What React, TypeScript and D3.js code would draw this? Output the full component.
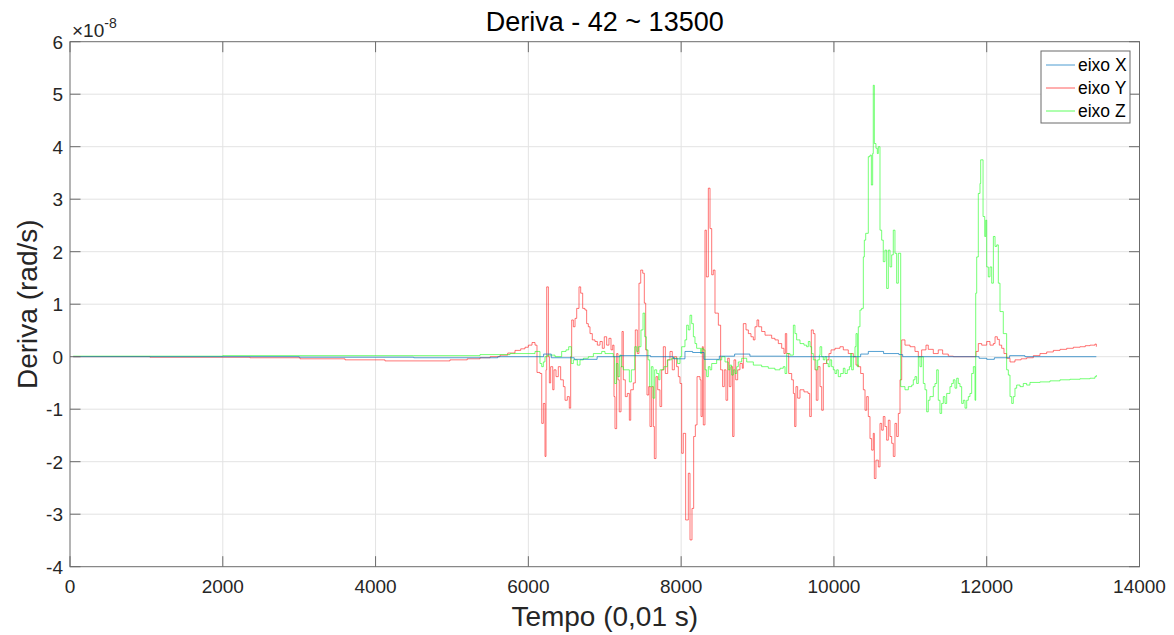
import React, { useEffect, useRef } from "react";
import * as d3 from "d3";

// Drift per axis (units of 1e-8 rad/s) vs time (units of 0.01 s), sampled as steps.
const eixoX: [number, number][] = [
  [42, 0], [3000, -0.01], [4500, -0.02], [5600, 0], [6100, 0], [6200, 0.05], [6300, -0.02],
  [6600, -0.05], [6900, 0], [7200, 0.02], [7600, 0], [7900, -0.04], [8050, 0.1], [8150, 0.08],
  [8300, -0.05], [8500, 0.01], [8700, 0.05], [8900, 0.01], [9400, 0], [10000, 0], [10350, 0.05],
  [10450, 0.1], [10650, 0.06], [10850, 0.04], [10900, 0], [11500, 0], [11900, -0.03],
  [12000, -0.05], [12100, -0.02], [12300, 0.02], [12500, 0], [13435, 0],
];

const eixoY: [number, number][] = [
  [42, 0], [1047, -0.01], [2356, -0.02], [3011, -0.04], [3600, -0.06], [4123, -0.08], [4582, -0.08],
  [4974, -0.06], [5200, -0.04], [5367, -0.02], [5500, 0], [5629, 0.03], [5730, 0.07], [5825, 0.12],
  [5900, 0.15], [5956, 0.18], [6000, 0.22], [6048, 0.27], [6087, 0.22], [6113, -0.3], [6152, -0.32],
  [6175, -1.27], [6196, -0.89], [6218, -1.9], [6231, -0.25], [6240, 1.33], [6262, 0], [6275, -0.5],
  [6292, -0.19], [6319, -0.63], [6336, -0.25], [6362, -0.38], [6392, -0.19], [6423, -0.44],
  [6458, -0.57], [6480, -0.83], [6510, -0.76], [6536, -0.98], [6554, 0], [6567, 0.7], [6589, 0.57],
  [6611, 0.73], [6633, 0.92], [6663, 1.33], [6685, 1.21], [6711, 0.92], [6741, 0.89], [6763, 0.63],
  [6785, 0.57], [6807, 0.44], [6837, 0.32], [6872, 0.29], [6903, 0.22], [6938, 0.29], [6968, 0.16],
  [6994, 0.38], [7025, 0.22], [7055, 0.35], [7082, 0.13], [7104, 0.22], [7121, -0.76], [7134, -1.37],
  [7156, 0.06], [7173, -0.44], [7190, -1.05], [7213, -0.19], [7226, 0.48], [7243, -0.44],
  [7269, -0.76], [7295, -0.7], [7322, -1.21], [7340, -0.63], [7374, -0.5], [7400, 0.51], [7426, 0.06],
  [7448, 1.4], [7471, 1.65], [7497, 1.59], [7518, 1.02], [7536, 0.13], [7553, -0.73], [7575, -0.57],
  [7592, -1.33], [7614, -0.57], [7636, -1.33], [7649, -1.94], [7671, -0.38], [7693, -0.63],
  [7723, -0.95], [7745, -0.25], [7767, 0.19], [7793, -0.32], [7824, -0.06], [7854, 0.1],
  [7884, -0.25], [7911, 0], [7941, -0.19], [7963, -0.38], [7985, -0.51], [8007, -1.84],
  [8028, -1.46], [8059, -3.11], [8094, -2.22], [8116, -3.49], [8142, -2.89], [8164, -1.52],
  [8186, -1.3], [8208, -0.38], [8247, -0.44], [8260, -1.14], [8277, 0.19], [8290, -1.3],
  [8312, 2.41], [8330, 1.52], [8356, 3.21], [8378, 2.44], [8400, 1.56], [8421, 1.65], [8443, 0.83],
  [8487, 0.6], [8517, -0.25], [8543, -0.57], [8565, -0.25], [8587, -0.83], [8609, -0.03],
  [8630, -0.57], [8652, -0.19], [8674, -1.52], [8692, -0.06], [8714, -0.44], [8740, -0.25],
  [8770, -0.13], [8801, -0.22], [8814, 0.63], [8849, 0.51], [8880, 0.44], [8914, 0.38], [8945, 0.32],
  [8967, 0.57], [8993, 0.7], [9015, 0.57], [9054, 0.48], [9098, 0.41], [9141, 0.41], [9185, 0.35],
  [9228, 0.32], [9272, 0.25], [9316, 0.16], [9346, 0.06], [9364, 0.44], [9382, 0.06], [9408, -0.32],
  [9447, -0.44], [9469, -0.7], [9486, -1.33], [9503, -0.57], [9525, -0.79], [9556, -0.63],
  [9608, -0.67], [9661, -0.7], [9683, -1.14], [9704, 0.51], [9730, 0.44], [9752, -0.25],
  [9769, -0.83], [9791, -0.19], [9818, -0.57], [9840, -1.02], [9861, -0.13], [9905, -0.06],
  [9935, 0.06], [9962, 0.13], [10014, 0.16], [10079, 0.19], [10123, 0.13], [10188, 0.06],
  [10254, 0], [10289, -0.16], [10319, -0.19], [10350, -0.32], [10385, -0.63], [10407, -1.02],
  [10429, -0.76], [10450, -1.14], [10472, -1.56], [10494, -1.78], [10515, -1.46], [10529, -2.32],
  [10550, -1.97], [10581, -2.1], [10603, -1.27], [10625, -1.4], [10646, -1.14], [10668, -1.33],
  [10690, -1.59], [10712, -1.21], [10734, -1.52], [10756, -1.65], [10777, -1.9], [10799, -1.27],
  [10821, -1.52], [10843, -1.08], [10865, -0.44], [10887, 0.32], [10930, 0.22], [10996, 0.19],
  [11061, 0.1], [11105, 0], [11148, 0.13], [11205, 0.22], [11235, 0.14], [11301, 0.06],
  [11366, 0.13], [11423, 0.05], [11497, 0.01], [11563, 0], [11825, 0], [11860, 0.1], [11890, 0.25],
  [11934, 0.22], [11978, 0.22], [12000, 0.29], [12043, 0.22], [12087, 0.25], [12109, 0.38],
  [12139, 0.33], [12165, 0.22], [12196, 0.16], [12226, 0.06], [12261, -0.03], [12305, -0.1],
  [12370, -0.06], [12450, -0.04], [12523, -0.02], [12610, 0.02], [12697, 0.06], [12785, 0.09],
  [12872, 0.12], [12960, 0.14], [13047, 0.16], [13134, 0.18], [13221, 0.19], [13290, 0.21],
  [13352, 0.22], [13417, 0.24], [13435, 0.19],
];

const eixoZ: [number, number][] = [
  [42, 0.01], [2000, 0.02], [4500, 0.02], [5367, 0.04], [5760, 0.06], [6022, 0.06], [6087, 0.1],
  [6152, -0.13], [6175, -0.19], [6196, -0.1], [6218, 0], [6248, 0.03], [6349, 0], [6436, 0.1],
  [6493, 0.13], [6528, 0.19], [6562, -0.13], [6589, -0.06], [6641, -0.16], [6676, -0.06],
  [6720, -0.03], [6785, 0], [6851, 0.06], [6960, 0.1], [7003, 0.06], [7112, 0], [7130, -0.51],
  [7152, -0.13], [7173, -0.38], [7195, 0.03], [7217, -0.19], [7243, -0.25], [7322, -0.48],
  [7348, -0.25], [7392, 0.19], [7418, 0.1], [7440, 0.19], [7474, 0.51], [7501, 0.83], [7523, 0.38],
  [7544, 0.13], [7566, -0.06], [7588, -0.57], [7610, -0.19], [7632, -0.79], [7654, -0.25],
  [7680, -0.32], [7706, -0.44], [7723, -0.25], [7776, -0.19], [7819, -0.06], [7876, -0.03],
  [7954, -0.13], [7985, 0], [8007, 0.19], [8050, 0.32], [8072, 0.6], [8094, 0.51], [8116, 0.79],
  [8138, 0.63], [8160, 0.38], [8181, 0.25], [8203, 0.16], [8255, 0.06], [8269, 0.16], [8290, 0.13],
  [8312, -0.25], [8334, -0.38], [8356, -0.19], [8378, -0.25], [8400, -0.13], [8465, -0.06],
  [8531, 0], [8574, -0.1], [8617, -0.25], [8639, -0.16], [8661, -0.35], [8683, -0.25], [8705, -0.32],
  [8727, -0.19], [8748, -0.1], [8792, -0.03], [8858, -0.1], [8945, -0.16], [9054, -0.19],
  [9141, -0.22], [9228, -0.25], [9294, -0.22], [9337, -0.19], [9360, -0.32], [9382, 0.06],
  [9425, 0.03], [9469, 0.6], [9490, 0.44], [9512, 0.32], [9556, 0.25], [9608, 0.22], [9643, 0.19],
  [9665, 0.29], [9687, 0.19], [9708, 0.06], [9730, -0.06], [9765, -0.25], [9787, -0.06],
  [9809, 0.03], [9818, 0.19], [9840, 0], [9861, -0.06], [9883, 0], [9905, -0.13], [9926, -0.19],
  [9948, -0.06], [9970, -0.19], [9992, -0.25], [10014, -0.32], [10036, -0.25], [10057, -0.38],
  [10088, -0.32], [10123, -0.22], [10145, -0.32], [10175, -0.25], [10202, -0.19], [10219, 0.06],
  [10232, -0.25], [10254, 0], [10276, 0.19], [10289, 0.44], [10306, -0.19], [10319, 0.57],
  [10341, 0.89], [10363, 0.92], [10385, 1.9], [10398, 2.22], [10416, 2.35], [10450, 3.81],
  [10472, 3.84], [10490, 3.27], [10507, 3.87], [10515, 5.17], [10529, 4.06], [10550, 3.97],
  [10568, 3.87], [10581, 4.0], [10603, 2.41], [10625, 2.22], [10646, 1.81], [10668, 2.03],
  [10690, 1.3], [10712, 2.03], [10734, 1.71], [10756, 1.94], [10777, 2.41], [10799, 1.97],
  [10821, 1.4], [10843, 1.97], [10874, -0.57], [10930, -0.63], [10974, -0.57], [11018, -0.54],
  [11039, -0.44], [11061, -0.38], [11083, -0.51], [11105, 0], [11127, -0.19], [11148, 0],
  [11170, -0.51], [11192, -0.63], [11214, -1.05], [11235, -0.83], [11257, -0.76], [11301, -0.57],
  [11323, -0.51], [11345, -0.25], [11366, -0.83], [11388, -1.08], [11410, -0.89], [11432, -0.76],
  [11454, -0.89], [11476, -0.7], [11519, -0.57], [11541, -0.51], [11563, -0.44], [11585, -0.6],
  [11607, -0.41], [11628, -0.51], [11650, -0.57], [11672, -0.89], [11694, -0.83], [11716, -0.98],
  [11738, -0.83], [11759, -0.76], [11781, -0.7], [11803, -0.32], [11825, -0.19], [11847, -0.83],
  [11856, 1.21], [11869, 1.9], [11890, 3.11], [11912, 3.3], [11921, 3.75], [11952, 2.67],
  [11974, 2.29], [11987, 2.6], [12000, 1.71], [12021, 1.52], [12043, 1.71], [12065, 1.4],
  [12087, 2.29], [12109, 2.1], [12131, 2.13], [12152, 1.4], [12174, 0.86], [12217, 0.44],
  [12261, -0.25], [12283, -0.35], [12305, -0.76], [12327, -0.89], [12348, -0.76], [12370, -0.6],
  [12392, -0.54], [12436, -0.57], [12479, -0.51], [12523, -0.54], [12566, -0.49], [12697, -0.48],
  [12828, -0.46], [12959, -0.44], [13090, -0.43], [13221, -0.42], [13352, -0.41], [13417, -0.38],
  [13435, -0.35],
];

const xTicks = [0, 2000, 4000, 6000, 8000, 10000, 12000, 14000];
const yTicks = [-4, -3, -2, -1, 0, 1, 2, 3, 4, 5, 6];

const seriesNames = ["eixo X", "eixo Y", "eixo Z"];
const seriesColors = ["#0072bd", "#ff1a1a", "#1aff1a"];

const W = 1174;
const H = 635;
const left = 70;
const right = 1139.5;
const top = 41.7;
const bottom = 566.7;
const font = "'Liberation Sans', Arial, Helvetica, sans-serif";
const ink = "#262626";

export default function App() {
  const ref = useRef<SVGSVGElement>(null);

  useEffect(() => {
    const svg = d3.select(ref.current);
    svg.selectAll("*").remove();

    const x = d3.scaleLinear().domain([0, 14000]).range([left, right]);
    const y = d3.scaleLinear().domain([-4, 6]).range([bottom, top]);

    svg.append("rect").attr("width", W).attr("height", H).attr("fill", "#fff");

    // grid
    const grid = svg.append("g").attr("stroke", "#e3e3e3").attr("stroke-width", 1);
    xTicks.slice(1, -1).forEach((t) => {
      grid.append("line").attr("x1", x(t)).attr("x2", x(t)).attr("y1", top).attr("y2", bottom);
    });
    yTicks.slice(1, -1).forEach((t) => {
      grid.append("line").attr("x1", left).attr("x2", right).attr("y1", y(t)).attr("y2", y(t));
    });

    // data lines
    svg.append("clipPath").attr("id", "plotClip")
      .append("rect").attr("x", left).attr("y", top).attr("width", right - left).attr("height", bottom - top);

    const line = d3.line<[number, number]>()
      .x((d) => x(d[0]))
      .y((d) => y(d[1]))
      .curve(d3.curveStepAfter);

    const data = [eixoX, eixoY, eixoZ];
    const plot = svg.append("g").attr("clip-path", "url(#plotClip)");
    [1, 2, 0].forEach((i) => {
      plot.append("path")
        .attr("d", line(data[i]) as string)
        .attr("fill", "none")
        .attr("stroke", seriesColors[i])
        .attr("stroke-width", 0.8)
        .attr("stroke-opacity", i === 0 ? 0.85 : 0.75);
    });

    // axes box and ticks (ticks point inward on all four sides)
    const axes = svg.append("g").attr("stroke", "#6b6b6b").attr("stroke-width", 1);
    axes.append("rect").attr("x", left).attr("y", top).attr("width", right - left).attr("height", bottom - top).attr("fill", "none");
    const tl = 10.5;
    xTicks.forEach((t) => {
      axes.append("line").attr("x1", x(t)).attr("x2", x(t)).attr("y1", bottom).attr("y2", bottom - tl);
      axes.append("line").attr("x1", x(t)).attr("x2", x(t)).attr("y1", top).attr("y2", top + tl);
    });
    yTicks.forEach((t) => {
      axes.append("line").attr("x1", left).attr("x2", left + tl).attr("y1", y(t)).attr("y2", y(t));
      axes.append("line").attr("x1", right).attr("x2", right - tl).attr("y1", y(t)).attr("y2", y(t));
    });

    // tick labels
    const lbl = svg.append("g").attr("font-family", font).attr("fill", ink).attr("font-size", 19);
    xTicks.forEach((t) => {
      lbl.append("text").attr("x", x(t)).attr("y", bottom + 26).attr("text-anchor", "middle").text(String(t));
    });
    yTicks.forEach((t) => {
      lbl.append("text").attr("x", left - 7).attr("y", y(t) + 7).attr("text-anchor", "end").text(String(t));
    });

    // exponent marker
    const exp = svg.append("text").attr("font-family", font).attr("fill", ink).attr("x", left + 2).attr("y", top - 5).attr("font-size", 19);
    exp.append("tspan").text("\u00d710");
    exp.append("tspan").attr("font-size", 14).attr("dy", -9).text("-8");

    // title and axis labels
    svg.append("text").attr("font-family", font).attr("fill", "#000").attr("font-size", 27)
      .attr("x", (left + right) / 2).attr("y", 31).attr("text-anchor", "middle").text("Deriva - 42 ~ 13500");
    svg.append("text").attr("font-family", font).attr("fill", ink).attr("font-size", 28)
      .attr("x", (left + right) / 2).attr("y", 626).attr("text-anchor", "middle").text("Tempo (0,01 s)");
    svg.append("text").attr("font-family", font).attr("fill", ink).attr("font-size", 28)
      .attr("transform", `translate(37,${(top + bottom) / 2}) rotate(-90)`).attr("text-anchor", "middle").text("Deriva (rad/s)");

    // legend
    const lg = svg.append("g");
    lg.append("rect").attr("x", 1041).attr("y", 51).attr("width", 89).attr("height", 72)
      .attr("fill", "#fff").attr("stroke", "#6b6b6b").attr("stroke-width", 1);
    seriesNames.forEach((name, i) => {
      const cy = 65 + i * 23;
      lg.append("line").attr("x1", 1046).attr("x2", 1075).attr("y1", cy).attr("y2", cy)
        .attr("stroke", seriesColors[i]).attr("stroke-width", 1).attr("stroke-opacity", 0.7);
      lg.append("text").attr("x", 1078).attr("y", cy + 6).attr("font-family", font).attr("font-size", 17.5)
        .attr("fill", "#000").text(name);
    });
  }, []);

  return (
    <svg ref={ref} width={W} height={H} style={{ position: "absolute", left: 0, top: 0, display: "block" }} />
  );
}
